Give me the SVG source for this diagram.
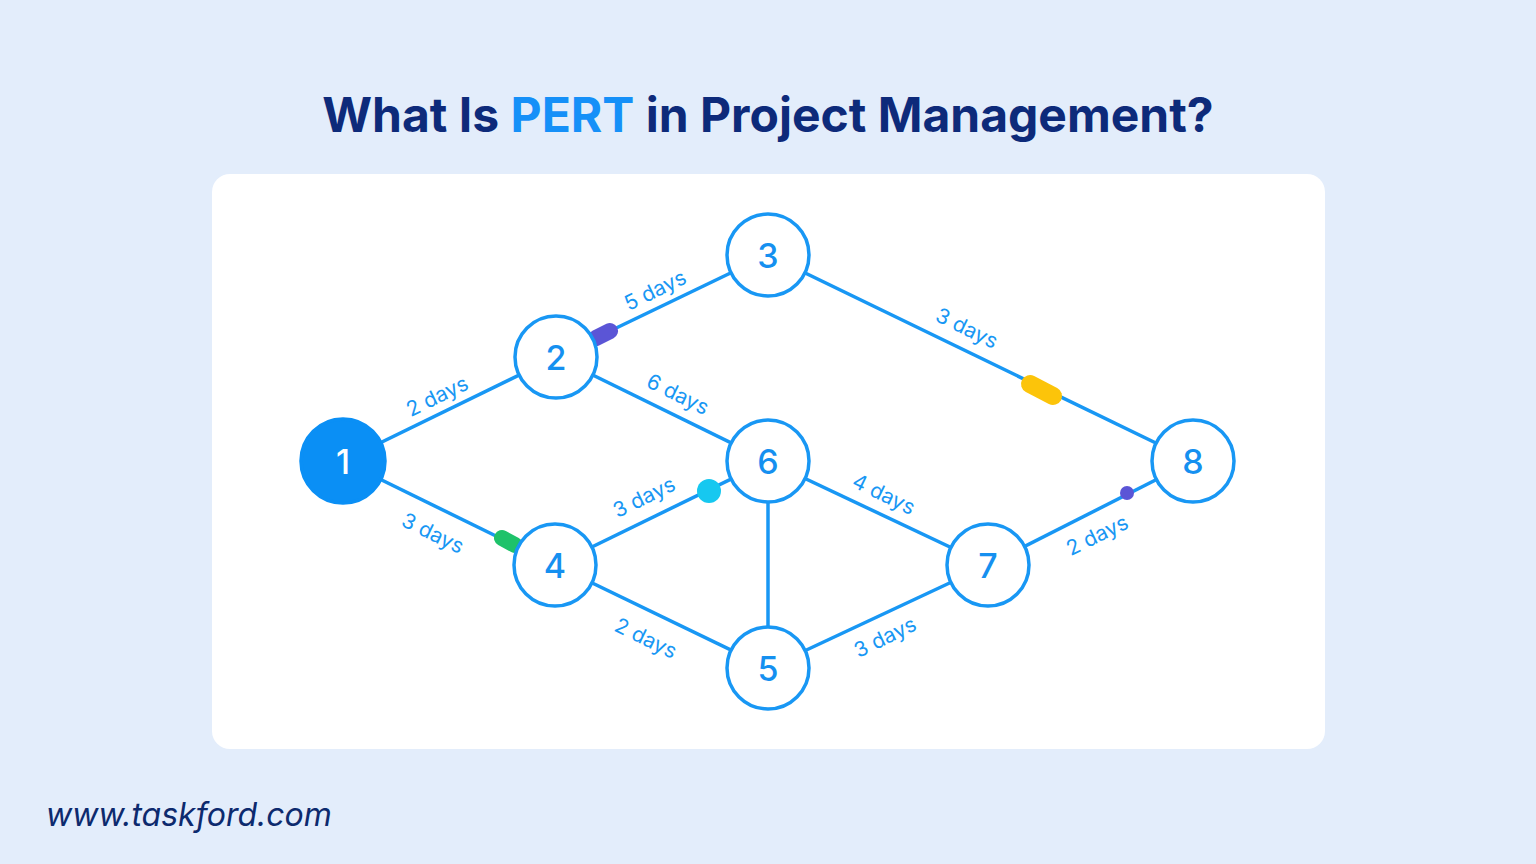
<svg xmlns="http://www.w3.org/2000/svg" width="1536" height="864" viewBox="0 0 1536 864">
<style>
.e{stroke:#1897f4;stroke-width:3.5;fill:none}
.n circle{fill:#fff;stroke:#1897f4;stroke-width:3.5}
.n text{font-family:Inter,"Noto Sans",sans-serif;font-size:34px;font-weight:500;fill:#1590f0;text-anchor:middle;dominant-baseline:central}
.l{font-family:Inter,"Noto Sans",sans-serif;font-size:21px;fill:#1897f4;text-anchor:middle;dominant-baseline:central}
</style>
<rect width="1536" height="864" fill="#e3edfb"/>
<text x="768" y="132" font-family="Inter,'Noto Sans',sans-serif" font-weight="bold" font-size="48" fill="#0d2a7a" text-anchor="middle">What Is <tspan fill="#1590f8">PERT</tspan> in Project Management?</text>
<rect x="212" y="174" width="1113" height="575" rx="18" fill="#fff"/>
<g id="connectors">
<line class="e" x1="343" y1="461" x2="556" y2="357"/>
<line class="e" x1="343" y1="461" x2="555" y2="565"/>
<line class="e" x1="556" y1="357" x2="768" y2="255"/>
<line class="e" x1="556" y1="357" x2="768" y2="461"/>
<line class="e" x1="768" y1="255" x2="1193" y2="461"/>
<line class="e" x1="555" y1="565" x2="768" y2="461"/>
<line class="e" x1="555" y1="565" x2="768" y2="668"/>
<line class="e" x1="768" y1="461" x2="768" y2="668"/>
<line class="e" x1="768" y1="461" x2="988" y2="565"/>
<line class="e" x1="768" y1="668" x2="988" y2="565"/>
<line class="e" x1="988" y1="565" x2="1193" y2="461"/>
<line x1="596" y1="338" x2="610" y2="331" stroke="#5b55d6" stroke-width="16" stroke-linecap="round"/>
<line x1="1030" y1="384" x2="1053" y2="396" stroke="#fcc40a" stroke-width="18" stroke-linecap="round"/>
<line x1="502" y1="538" x2="515" y2="545" stroke="#1ec26a" stroke-width="16" stroke-linecap="round"/>
<circle cx="709" cy="491" r="12" fill="#16c8f0"/>
<circle cx="1127" cy="493" r="7" fill="#5b55d6"/>
<text class="l" transform="translate(655,290) rotate(-26)">5 days</text>
<text class="l" transform="translate(437,396) rotate(-26)">2 days</text>
<text class="l" transform="translate(678,394) rotate(26)">6 days</text>
<text class="l" transform="translate(967,328) rotate(26)">3 days</text>
<text class="l" transform="translate(433,533) rotate(26)">3 days</text>
<text class="l" transform="translate(644,497) rotate(-26)">3 days</text>
<text class="l" transform="translate(884,494) rotate(26)">4 days</text>
<text class="l" transform="translate(646,638) rotate(26)">2 days</text>
<text class="l" transform="translate(885,637) rotate(-26)">3 days</text>
<text class="l" transform="translate(1097,535) rotate(-26)">2 days</text>
</g>
<g id="n1" class="n"><circle cx="343" cy="461" r="42" style="fill:#0a8ff5;stroke:#0a8ff5"/><text x="343" y="461" style="fill:#fff">1</text></g>
<g id="n2" class="n"><circle cx="556" cy="357" r="41"/><text x="556" y="357">2</text></g>
<g id="n3" class="n"><circle cx="768" cy="255" r="41"/><text x="768" y="255">3</text></g>
<g id="n4" class="n"><circle cx="555" cy="565" r="41"/><text x="555" y="565">4</text></g>
<g id="n5" class="n"><circle cx="768" cy="668" r="41"/><text x="768" y="668">5</text></g>
<g id="n6" class="n"><circle cx="768" cy="461" r="41"/><text x="768" y="461">6</text></g>
<g id="n7" class="n"><circle cx="988" cy="565" r="41"/><text x="988" y="565">7</text></g>
<g id="n8" class="n"><circle cx="1193" cy="461" r="41"/><text x="1193" y="461">8</text></g>
<text x="46" y="826" font-family="Inter,'Noto Sans',sans-serif" font-style="italic" font-size="32" fill="#0d2a6e">www.taskford.com</text>
</svg>
